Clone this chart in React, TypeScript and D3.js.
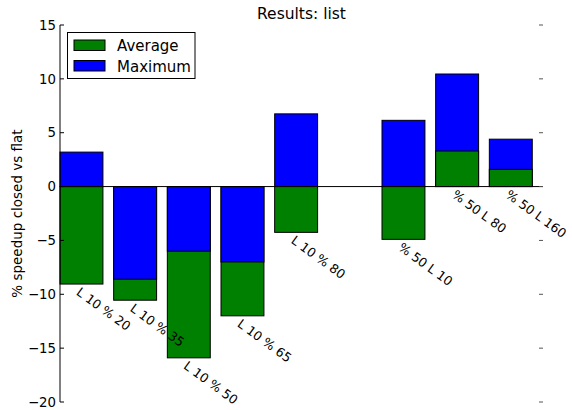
import React from "react";
import * as d3 from "d3";

const categories = ["L 10 % 20", "L 10 % 35", "L 10 % 50", "L 10 % 65", "L 10 % 80", "", "% 50 L 10", "% 50 L 80", "% 50 L 160"];
const averageValues: (number | null)[] = [-9.05, -10.55, -15.9, -12.0, -4.25, null, -4.9, 3.3, 1.6];
const maximumValues: (number | null)[] = [3.2, -8.6, -6.0, -7.0, 6.75, null, 6.15, 10.45, 4.4];
const yTicks = [15, 10, 5, 0, -5, -10, -15, -20];
const seriesNames = ["Average", "Maximum"];
const seriesColors = ["#008000", "#0000ff"];

const W = 572;
const H = 410;
const left = 60;
const right = 543;
const top = 25;
const bottom = 402;

export default function App() {
  const x = d3.scaleBand<string>().domain(categories.map((c, i) => i + ":" + c)).range([left, right]).paddingInner(0).paddingOuter(0);
  const y = d3.scaleLinear().domain([-20, 15]).range([bottom, top]);
  const bw = x.bandwidth() * 0.8;
  const fmt = (v: number) => (v < 0 ? "\u2212" + Math.abs(v) : String(v));
  const font = "'DejaVu Sans', sans-serif";

  const bars: React.ReactNode[] = [];
  const labels: React.ReactNode[] = [];
  categories.forEach((c, i) => {
    const key = i + ":" + c;
    const x0 = x(key)!;
    const a = averageValues[i];
    const m = maximumValues[i];
    if (a === null || m === null) return;
    const items = [
      { v: a, color: seriesColors[0], name: "a" },
      { v: m, color: seriesColors[1], name: "m" },
    ].sort((p, q) => Math.abs(q.v) - Math.abs(p.v));
    items.forEach((it) => {
      const y1 = y(Math.max(0, it.v));
      const y2 = y(Math.min(0, it.v));
      bars.push(
        <rect key={key + it.name} x={x0} y={y1} width={bw} height={y2 - y1} fill={it.color} stroke="#000" strokeWidth={1} />
      );
    });
    const low = y(Math.min(0, a, m));
    const cx = x0 + bw / 2;
    labels.push(
      <text key={key + "lbl"} transform={`translate(${cx - 6},${low + 10}) rotate(36)`} fontSize={12.6} fontFamily={font} fill="#000">
        {c}
      </text>
    );
  });

  return (
    <svg width={W} height={H} style={{ position: "absolute", left: 0, top: 0 }} xmlns="http://www.w3.org/2000/svg">
      <rect x={0} y={0} width={W} height={H} fill="#fff" />
      <text x={(left + right) / 2} y={19} textAnchor="middle" fontSize={15.5} fontFamily={font} fill="#000">
        Results: list
      </text>
      {bars}
      <line x1={left} x2={right} y1={y(0)} y2={y(0)} stroke="#000" strokeWidth={1} />
      <line x1={left} x2={left} y1={top} y2={bottom} stroke="#000" strokeWidth={1} />
      {yTicks.map((t) => (
        <g key={"t" + t}>
          <line x1={left} x2={left + 4} y1={y(t)} y2={y(t)} stroke="#000" strokeWidth={1} />
          <line x1={right - 4} x2={right} y1={y(t)} y2={y(t)} stroke="#555" strokeWidth={1} />
          <text x={56} y={y(t)} dy="0.35em" textAnchor="end" fontSize={13.3} fontFamily={font} fill="#000">
            {fmt(t)}
          </text>
        </g>
      ))}
      {labels}
      <text transform={`translate(22,${(top + bottom) / 2}) rotate(-90)`} textAnchor="middle" fontSize={13.5} fontFamily={font} fill="#000">
        % speedup closed vs flat
      </text>
      <g>
        <rect x={67.5} y={32.5} width={127.5} height={46} fill="#fff" stroke="#000" strokeWidth={1} />
        {seriesNames.map((n, i) => (
          <g key={n}>
            <rect x={74} y={40 + i * 20.5} width={31} height={10.5} fill={seriesColors[i]} stroke="#000" strokeWidth={1} />
            <text x={117} y={51 + i * 20.5} fontSize={15} fontFamily={font} fill="#000">
              {n}
            </text>
          </g>
        ))}
      </g>
    </svg>
  );
}
